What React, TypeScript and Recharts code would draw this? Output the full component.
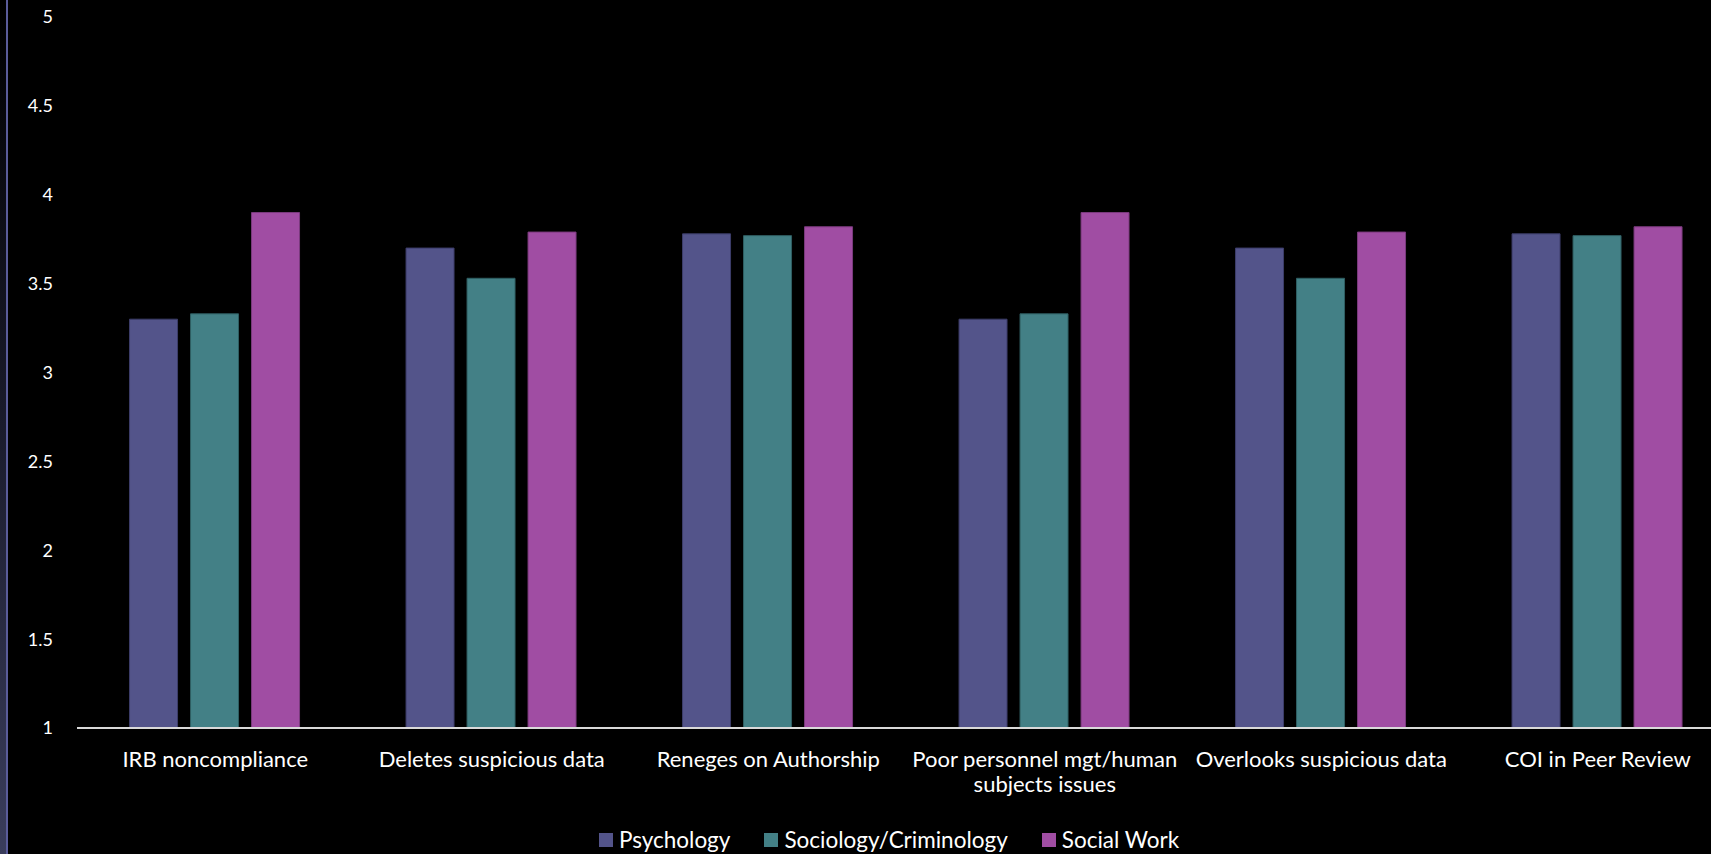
import React from "react";
import { BarChart, Bar, XAxis, YAxis, Legend } from "recharts";

const categories = [
  "IRB noncompliance",
  "Deletes suspicious data",
  "Reneges on Authorship",
  "Poor personnel mgt/human\nsubjects issues",
  "Overlooks suspicious data",
  "COI in Peer Review",
];
const psychology = [3.3, 3.7, 3.78, 3.3, 3.7, 3.78];
const sociologyCriminology = [3.33, 3.53, 3.77, 3.33, 3.53, 3.77];
const socialWork = [3.9, 3.79, 3.82, 3.9, 3.79, 3.82];
const yTicks = [1, 1.5, 2, 2.5, 3, 3.5, 4, 4.5, 5];

const seriesInfo = [
  { key: "psychology", name: "Psychology", fill: "#53548A", stroke: "#3C3D6A" },
  { key: "sociology", name: "Sociology/Criminology", fill: "#438086", stroke: "#2F5E63" },
  { key: "socialWork", name: "Social Work", fill: "#A04DA3", stroke: "#7A3A7D" },
];

const data = categories.map((c, i) => ({
  category: c,
  psychology: psychology[i],
  sociology: sociologyCriminology[i],
  socialWork: socialWork[i],
}));

const FONT = "Lato, 'Open Sans', sans-serif";

const CategoryTick = (props: any) => {
  const { x, y, payload } = props;
  const lines = String(payload.value).split("\n");
  return (
    <g transform={`translate(${x},${y})`}>
      <text textAnchor="middle" fill="#FFFFFF" fontSize={22} fontFamily={FONT}>
        {lines.map((l, i) => (
          <tspan key={i} x={0} y={21 + i * 25} dy="0.71em">
            {l}
          </tspan>
        ))}
      </text>
    </g>
  );
};

const LegendContent = () => (
  <div
    style={{
      display: "flex",
      justifyContent: "flex-start",
      alignItems: "center",
      height: 28,
      fontFamily: FONT,
      fontSize: 22.5,
      color: "#FFFFFF",
      paddingLeft: 599,
    }}
  >
    {seriesInfo.map((s, i) => (
      <div
        key={s.key}
        style={{ display: "flex", alignItems: "center", marginRight: i < 2 ? 34 : 0 }}
      >
        <span
          style={{
            display: "inline-block",
            width: 14,
            height: 14,
            background: s.fill,
            marginRight: 6,
          }}
        />
        <span style={{ lineHeight: "28px" }}>{s.name}</span>
      </div>
    ))}
  </div>
);

export default function App() {
  return (
    <div
      style={{
        position: "fixed",
        left: 0,
        top: 0,
        width: 1711,
        height: 854,
        background: "#000000",
        overflow: "hidden",
      }}
    >
      <div
        style={{
          position: "absolute",
          left: 0,
          top: 0,
          width: 6,
          height: 854,
          background: "linear-gradient(to bottom, #000000 0%, #1a1b2c 50%, #3A3D5C 100%)",
        }}
      />
      <div
        style={{
          position: "absolute",
          left: 6,
          top: 0,
          width: 2,
          height: 854,
          background: "#5A5C9A",
        }}
      />
      <div style={{ position: "absolute", left: 0, top: 0 }}>
        <BarChart
          width={1736}
          height={854}
          data={data}
          margin={{ top: 17, right: 0, left: 0, bottom: 0 }}
          barCategoryGap="19%"
          barGap={13}
        >
          <XAxis
            dataKey="category"
            interval={0}
            height={98}
            tickLine={false}
            tickSize={0}
            axisLine={{ stroke: "#D9D9D9", strokeWidth: 2 }}
            tick={<CategoryTick />}
          />
          <YAxis
            type="number"
            domain={[1, 5]}
            ticks={yTicks}
            width={77}
            axisLine={false}
            tickLine={false}
            tickSize={0}
            tickMargin={24}
            tick={{ fill: "#FFFFFF", fontSize: 18, fontFamily: FONT }}
          />
          <Legend verticalAlign="bottom" height={28} content={<LegendContent />} />
          {seriesInfo.map((s) => (
            <Bar
              key={s.key}
              dataKey={s.key}
              name={s.name}
              fill={s.fill}
              stroke={s.stroke}
              strokeWidth={1}
              isAnimationActive={false}
            />
          ))}
        </BarChart>
      </div>
    </div>
  );
}
